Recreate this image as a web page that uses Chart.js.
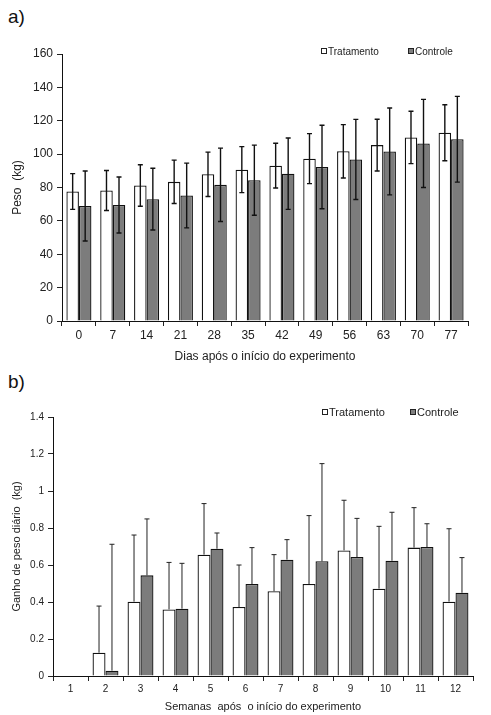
<!DOCTYPE html>
<html>
<head>
<meta charset="utf-8">
<script src="https://cdn.jsdelivr.net/npm/chart.js@4.4.1/dist/chart.umd.min.js"></script>
<style>
  body { margin: 0; background: #fff; font-family: "Liberation Sans", Arial, sans-serif; }
  #wrap { position: relative; width: 491px; height: 715px; overflow: hidden; }
  canvas { position: absolute; left: 0; }
  .painel { position: absolute; left: 8px; font-size: 19px; color: #111; }
  .leg { position: absolute; color: #222; white-space: nowrap; line-height: 1; }
  .leg i { display: inline-block; width: 4px; height: 4px; border: 1px solid #222; margin-right: 1px; vertical-align: 1px; }
  .leg i.cinza { background: #7f7f7f; }
</style>
</head>
<body>
<div id="wrap">
  <div class="painel" style="top:6px">a)</div>
  <canvas id="graficoPeso" width="491" height="365" style="top:0"></canvas>
  <div class="leg" style="top:47px;left:321px;font-size:10px"><i></i>Tratamento</div>
  <div class="leg" style="top:47px;left:408px;font-size:10px"><i class="cinza"></i>Controle</div>

  <div class="painel" style="top:371px">b)</div>
  <canvas id="graficoGanho" width="491" height="350" style="top:365px"></canvas>
  <div class="leg" style="top:407px;left:322px;font-size:11px"><i></i>Tratamento</div>
  <div class="leg" style="top:407px;left:410px;font-size:11px"><i class="cinza"></i>Controle</div>
</div>
<script>
// a) peso médio (kg) por dia
const dias = ['0', '7', '14', '21', '28', '35', '42', '49', '56', '63', '70', '77'];
const pesoTrat = [77.6, 78.2, 81.2, 83.4, 87.9, 90.7, 93.1, 97.3, 101.7, 105.4, 110.0, 112.8];
const pesoTratDp = [10.7, 12.0, 12.4, 13.0, 13.3, 13.8, 13.4, 15.0, 16.0, 15.5, 15.7, 16.8];
const pesoCtrl = [68.9, 69.5, 73.0, 75.2, 81.6, 84.4, 88.3, 92.3, 96.8, 101.6, 106.4, 108.9];
const pesoCtrlDp = [21.0, 16.8, 18.5, 19.4, 22.0, 21.0, 21.4, 25.0, 24.0, 26.0, 26.4, 25.7];

// b) ganho de peso diário (kg) por semana
const semanas = ['1', '2', '3', '4', '5', '6', '7', '8', '9', '10', '11', '12'];
const ganhoTrat = [0, 0.126, 0.402, 0.360, 0.656, 0.373, 0.458, 0.497, 0.679, 0.472, 0.694, 0.402];
const ganhoTratDp = [0, 0.252, 0.360, 0.254, 0.276, 0.227, 0.198, 0.370, 0.271, 0.337, 0.216, 0.394];
const ganhoCtrl = [0, 0.029, 0.544, 0.364, 0.688, 0.497, 0.629, 0.620, 0.643, 0.623, 0.697, 0.450];
const ganhoCtrlDp = [0, 0.683, 0.305, 0.245, 0.085, 0.197, 0.108, 0.528, 0.209, 0.262, 0.126, 0.190];

const barrasErro = {
  id: 'barrasErro',
  afterDatasetsDraw(chart, args, opts) {
    const ctx = chart.ctx;
    const y = chart.scales.y;
    chart.data.datasets.forEach((ds, i) => {
      chart.getDatasetMeta(i).data.forEach((bar, j) => {
        const v = ds.data[j], e = ds.erro[j];
        if (!e) return;
        const topo = y.getPixelForValue(v + e);
        const base = opts.soSuperior ? y.getPixelForValue(v) : y.getPixelForValue(v - e);
        ctx.save();
        ctx.strokeStyle = opts.cor;
        ctx.lineWidth = opts.espessura;
        ctx.beginPath();
        ctx.moveTo(bar.x, topo);
        ctx.lineTo(bar.x, base);
        ctx.moveTo(bar.x - opts.cap, topo);
        ctx.lineTo(bar.x + opts.cap, topo);
        if (!opts.soSuperior) {
          ctx.moveTo(bar.x - opts.cap, base);
          ctx.lineTo(bar.x + opts.cap, base);
        }
        ctx.stroke();
        ctx.restore();
      });
    });
  }
};

const criarGrafico = (id, rotulos, trat, tratDp, ctrl, ctrlDp, cfg) => {
  new Chart(document.getElementById(id), {
    type: 'bar',
    data: {
      labels: rotulos,
      datasets: [
        { label: 'Tratamento', data: trat, erro: tratDp, backgroundColor: '#ffffff', borderColor: '#111', borderWidth: 1.3, borderSkipped: 'bottom' },
        { label: 'Controle', data: ctrl, erro: ctrlDp, backgroundColor: '#7c7c7c', borderColor: '#111', borderWidth: 1.3, borderSkipped: 'bottom' }
      ]
    },
    options: {
      responsive: false,
      animation: false,
      layout: { padding: { left: 0, right: cfg.direita, top: cfg.topo, bottom: 0 } },
      datasets: { bar: { categoryPercentage: 0.74, barPercentage: 1.0 } },
      plugins: {
        legend: { display: false },
        tooltip: { enabled: false },
        barrasErro: cfg.erro
      },
      scales: {
        x: {
          grid: { display: true, offset: true, drawOnChartArea: false, drawTicks: true, tickLength: 5, color: '#222' },
          border: { display: true, color: '#111', width: 1 },
          ticks: { color: '#222', font: { family: 'Liberation Sans', size: cfg.fonteTick }, padding: 2, maxRotation: 0 },
          title: { display: true, text: cfg.tituloX, color: '#222', font: { family: 'Liberation Sans', size: cfg.fonteTitulo }, padding: { top: 0, bottom: 1 } },
          afterFit: (s) => { s.height = cfg.alturaX; }
        },
        y: {
          min: 0,
          max: cfg.max,
          ticks: {
            stepSize: cfg.passo,
            color: '#222',
            padding: 4,
            font: { family: 'Liberation Sans', size: cfg.fonteTick },
            callback: (v) => String(Number(v.toFixed(1)))
          },
          grid: { display: true, drawOnChartArea: false, drawTicks: true, tickLength: 5, color: '#222' },
          border: { display: true, color: '#111', width: 1 },
          title: { display: true, text: cfg.tituloY, color: '#222', font: { family: 'Liberation Sans', size: cfg.fonteTitulo }, padding: { top: 10, bottom: 0 } },
          afterFit: (s) => { s.width = cfg.larguraY; }
        }
      }
    },
    plugins: [barrasErro]
  });
};

criarGrafico('graficoPeso', dias, pesoTrat, pesoTratDp, pesoCtrl, pesoCtrlDp, {
  direita: 23, topo: 54, alturaX: 44, larguraY: 62,
  max: 160, passo: 20, fonteTick: 12, fonteTitulo: 12,
  tituloX: 'Dias após o início do experimento', tituloY: 'Peso  (kg)',
  erro: { cor: '#111', espessura: 1.4, cap: 2.5, soSuperior: false }
});

criarGrafico('graficoGanho', semanas, ganhoTrat, ganhoTratDp, ganhoCtrl, ganhoCtrlDp, {
  direita: 18, topo: 52, alturaX: 39, larguraY: 53,
  max: 1.4, passo: 0.2, fonteTick: 10, fonteTitulo: 11,
  tituloX: 'Semanas  após  o início do experimento', tituloY: 'Ganho de peso diário  (kg)',
  erro: { cor: '#222', espessura: 1, cap: 2.5, soSuperior: true }
});
</script>
</body>
</html>
